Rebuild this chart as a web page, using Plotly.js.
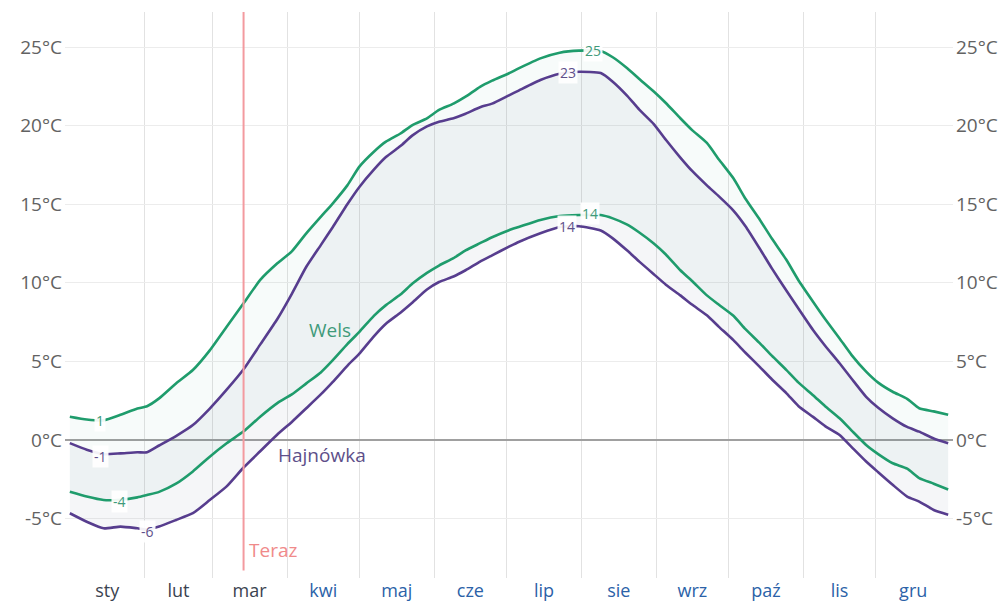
<!DOCTYPE html>
<html>
<head>
<meta charset="utf-8">
<script src="https://cdn.plot.ly/plotly-3.0.1.min.js"></script>
<style>html,body{margin:0;padding:0;background:#fff;}#chart{width:1008px;height:601px;}</style>
</head>
<body>
<div id="chart"></div>
<script>
// Day of year for each sample
const days = [0,7,14,21,28,32,37,44,51,58,65,72,79,86,92,98,104,109,115,120,126,131,137,142,148,153,159,164,170,175,182,186,195,203,211,220,225,231,236,242,247,253,258,264,269,275,280,286,291,297,302,308,313,319,324,330,335,341,347,352,358,364];

const welsHigh = [1.48,1.3,1.25,1.6,2.0,2.15,2.65,3.6,4.45,5.7,7.2,8.7,10.2,11.24,12.0,13.15,14.2,15.06,16.2,17.39,18.34,18.98,19.5,20.04,20.46,21.0,21.4,21.84,22.47,22.86,23.33,23.64,24.28,24.64,24.77,24.75,24.35,23.65,22.97,22.17,21.44,20.47,19.7,18.9,17.85,16.65,15.35,14.0,12.8,11.45,10.15,8.8,7.7,6.46,5.4,4.35,3.65,3.07,2.62,2.02,1.82,1.6];
const welsLow = [-3.29,-3.6,-3.82,-3.8,-3.65,-3.5,-3.3,-2.78,-2.0,-1.06,-0.21,0.55,1.5,2.35,2.9,3.6,4.3,5.08,6.1,6.88,7.9,8.58,9.25,9.95,10.63,11.1,11.57,12.06,12.52,12.9,13.35,13.55,14.0,14.25,14.31,14.31,14.1,13.7,13.2,12.5,11.8,10.8,10.1,9.2,8.6,7.9,7.05,6.15,5.35,4.45,3.65,2.85,2.15,1.38,0.6,-0.32,-0.9,-1.48,-1.82,-2.42,-2.78,-3.15];
const hajHigh = [-0.2,-0.62,-0.9,-0.85,-0.78,-0.78,-0.35,0.25,0.95,2.0,3.2,4.5,6.1,7.7,9.3,11.02,12.4,13.55,15.0,16.1,17.2,18.0,18.7,19.38,19.95,20.25,20.47,20.76,21.17,21.4,21.93,22.23,22.9,23.3,23.43,23.35,22.8,21.9,21.02,20.1,19.1,17.97,17.1,16.2,15.5,14.6,13.6,12.15,10.9,9.5,8.35,7.0,6.0,4.88,3.9,2.75,2.05,1.38,0.83,0.53,0.1,-0.2];
const hajLow = [-4.66,-5.2,-5.62,-5.51,-5.62,-5.7,-5.5,-5.09,-4.66,-3.82,-2.95,-1.75,-0.7,0.35,1.15,2.02,2.9,3.7,4.72,5.5,6.6,7.4,8.1,8.75,9.57,10.05,10.4,10.8,11.35,11.75,12.3,12.6,13.15,13.55,13.6,13.33,12.83,12.05,11.35,10.55,9.88,9.2,8.6,7.93,7.2,6.35,5.55,4.64,3.85,2.97,2.15,1.47,0.88,0.32,-0.45,-1.37,-2.05,-2.85,-3.6,-3.92,-4.45,-4.75];

const monthLabels = ['sty','lut','mar','kwi','maj','cze','lip','sie','wrz','paź','lis','gru'];
const monthMid = [15.5,45,74.5,105,135.5,166,196.5,227.5,258,288.5,319,349.5];
const monthStart = [31,59,90,120,151,181,212,243,273,304,334];
const pastMonths = 3;

const yTickVals = [-5,0,5,10,15,20,25];
const yTickText = ['-5°C','0°C','5°C','10°C','15°C','20°C','25°C'];

const today = 72;
const todayLabel = 'Teraz';

// line labels: [day, value, text, station]
const lineLabels = [
  [12.4, 1.23, '1', 'wels'],
  [12.8, -1.08, '-1', 'haj'],
  [20.7, -3.94, '-4', 'wels'],
  [32.3, -5.85, '-6', 'haj'],
  [216.7, 24.8, '25', 'wels'],
  [206.3, 23.4, '23', 'haj'],
  [215.4, 14.4, '14', 'wels'],
  [205.9, 13.6, '14', 'haj']
];
const stationLabels = [
  [107.7, 7.0, 'Wels', 'wels'],
  [104.4, -0.95, 'Hajnówka', 'haj']
];

const GREEN = '#1f9c6c';
const PURPLE = '#573d8e';
const colorOf = s => s === 'wels' ? GREEN : PURPLE;
const labelColorOf = s => s === 'wels' ? '#3f9a7a' : '#5e4f8a';
const FONT = 'Open Sans, sans-serif';

const traces = [
  {x: days, y: welsLow, mode: 'lines', line: {width: 0}, hoverinfo: 'skip', showlegend: false},
  {x: days, y: welsHigh, mode: 'lines', line: {width: 0}, fill: 'tonexty', fillcolor: 'rgba(40,150,110,0.035)', hoverinfo: 'skip', showlegend: false},
  {x: days, y: hajLow, mode: 'lines', line: {width: 0}, hoverinfo: 'skip', showlegend: false},
  {x: days, y: hajHigh, mode: 'lines', line: {width: 0}, fill: 'tonexty', fillcolor: 'rgba(80,100,140,0.06)', hoverinfo: 'skip', showlegend: false},
  {x: days, y: welsHigh, mode: 'lines', line: {color: GREEN, width: 2.6, shape: 'spline', smoothing: 0.5}, hoverinfo: 'skip', showlegend: false},
  {x: days, y: welsLow, mode: 'lines', line: {color: GREEN, width: 2.6, shape: 'spline', smoothing: 0.5}, hoverinfo: 'skip', showlegend: false},
  {x: days, y: hajHigh, mode: 'lines', line: {color: PURPLE, width: 2.6, shape: 'spline', smoothing: 0.5}, hoverinfo: 'skip', showlegend: false},
  {x: days, y: hajLow, mode: 'lines', line: {color: PURPLE, width: 2.6, shape: 'spline', smoothing: 0.5}, hoverinfo: 'skip', showlegend: false},
  {x: [days[0]], y: [welsHigh[0]], yaxis: 'y2', mode: 'markers', marker: {opacity: 0}, hoverinfo: 'skip', showlegend: false}
];

const annotations = [];
lineLabels.forEach(l => annotations.push({
  x: l[0], y: l[1], text: l[2], showarrow: false, xref: 'x', yref: 'y',
  font: {family: FONT, size: 14, color: labelColorOf(l[3])},
  bgcolor: 'rgba(255,255,255,0.92)', borderpad: 1
}));
stationLabels.forEach(l => annotations.push({
  x: l[0], y: l[1], text: l[2], showarrow: false, xref: 'x', yref: 'y',
  font: {family: FONT, size: 19, color: labelColorOf(l[3])}
}));
annotations.push({
  x: today, y: -7.0, text: todayLabel, showarrow: false, xref: 'x', yref: 'y',
  xanchor: 'left', xshift: 3, font: {family: FONT, size: 19, color: '#f08a8a'}
});

const tickText = monthLabels.map((m, i) =>
  '<span style="color:' + (i < pastMonths ? '#3b4350' : '#2b62a8') + '">' + m + '</span>');

const yRange = [-8.78, 27.23];

const layout = {
  width: 1008, height: 601,
  margin: {l: 65, r: 55, t: 12, b: 23},
  paper_bgcolor: '#fff', plot_bgcolor: '#fff',
  showlegend: false,
  hovermode: false,
  font: {family: FONT},
  xaxis: {
    range: [-2, 366], tickmode: 'array', tickvals: monthMid, ticktext: tickText,
    showgrid: false, zeroline: false, showline: false, ticks: '', ticklabelstandoff: 0,
    tickfont: {family: FONT, size: 18, color: '#2b62a8'},
    minor: {tickmode: 'array', tickvals: monthStart, showgrid: true, gridcolor: '#e2e2e2', gridwidth: 1, ticks: ''},
    fixedrange: true
  },
  yaxis: {
    range: yRange, tickmode: 'array', tickvals: yTickVals, ticktext: yTickText,
    showgrid: true, gridcolor: '#ececec', gridwidth: 1,
    zeroline: true, zerolinecolor: '#a0a0a0', zerolinewidth: 1.2,
    showline: false, ticks: '', ticklabelstandoff: 2,
    tickfont: {family: FONT, size: 19, color: '#626262'}, fixedrange: true
  },
  yaxis2: {
    range: yRange, overlaying: 'y', side: 'right', tickmode: 'array', tickvals: yTickVals, ticktext: yTickText,
    showgrid: false, zeroline: false, showline: false, ticks: '', ticklabelstandoff: 2,
    tickfont: {family: FONT, size: 19, color: '#626262'}, fixedrange: true
  },
  shapes: [{
    type: 'line', xref: 'x', yref: 'y', x0: today, x1: today, y0: -8.3, y1: yRange[1],
    line: {color: '#f39a9f', width: 2}
  }],
  annotations: annotations
};

Plotly.newPlot('chart', traces, layout, {staticPlot: true, displayModeBar: false});
</script>
</body>
</html>
